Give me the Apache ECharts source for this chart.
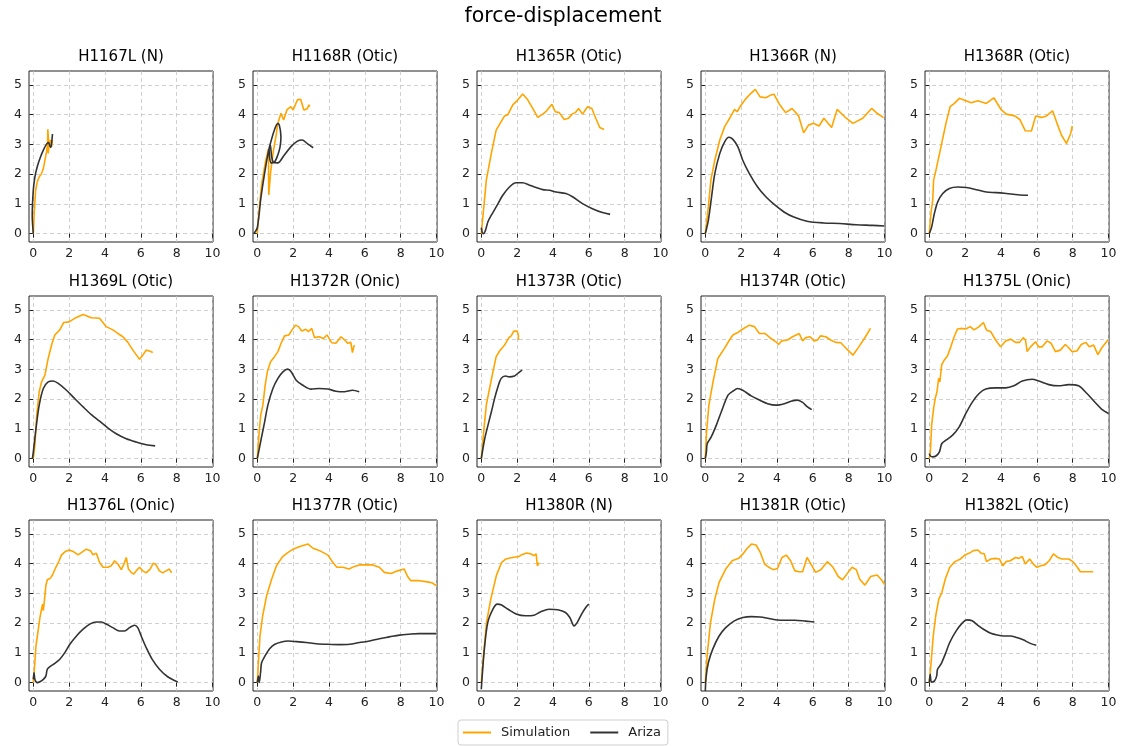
<!DOCTYPE html>
<html>
<head>
<meta charset="utf-8">
<script src="https://cdn.jsdelivr.net/npm/echarts@6/dist/echarts.min.js"></script>
<style>
html,body{margin:0;padding:0;background:#fff;}
#chart{width:1126px;height:746px;}
</style>
</head>
<body>
<div id="chart"></div>
<script>
// ---- data ----
const panelTitles = ['H1167L (N)','H1168R (Otic)','H1365R (Otic)','H1366R (N)','H1368R (Otic)',
  'H1369L (Otic)','H1372R (Onic)','H1373R (Otic)','H1374R (Otic)','H1375L (Onic)',
  'H1376L (Onic)','H1377R (Otic)','H1380R (N)','H1381R (Otic)','H1382L (Otic)'];
const xTicks = [0,2,4,6,8,10];
const yTicks = [0,1,2,3,4,5];
const seriesNames = ['Simulation','Ariza'];

const sim_H1167L = [[0,0],[0.06,0.79],[0.13,1.46],[0.22,1.74],[0.33,1.91],[0.46,2.02],[0.56,2.19],[0.65,2.47],[0.74,2.75],[0.8,3.03],[0.81,3.51],[0.85,3.15],[0.83,2.7],[0.89,3.03],[0.96,3.15],[1.02,2.92],[1.06,3.15]];
const ariza_H1167L = [[0,0],[-0.06,0.6],[0,1.46],[0.09,1.91],[0.22,2.25],[0.37,2.53],[0.56,2.81],[0.74,3.01],[0.85,3.06],[0.93,2.94],[0.98,2.9],[1.04,3.15],[1.07,3.35]];

const sim_H1168R = [[0,0],[0.1,0.8],[0.25,1.7],[0.45,2.4],[0.62,2.85],[0.64,1.3],[0.75,2.1],[0.9,2.8],[1.05,3.3],[1.14,3.7],[1.32,4.05],[1.47,3.82],[1.65,4.16],[1.87,4.27],[2.0,4.16],[2.24,4.5],[2.42,4.52],[2.6,4.16],[2.79,4.2],[2.88,4.33],[2.92,4.27]];
const ariza_H1168R = [[-0.2,0],[0,0.2],[0.2,1.2],[0.4,2.0],[0.6,2.7],[0.73,3.03],[0.95,3.48],[1.14,3.7],[1.23,3.65],[1.32,3.26],[1.27,2.92],[1.14,2.64],[0.95,2.4],[0.77,2.38],[0.68,2.6],[0.66,2.85],[0.72,3.0],[0.8,2.6],[0.9,2.4],[1.14,2.38],[1.5,2.64],[1.87,2.92],[2.24,3.11],[2.5,3.15],[2.79,3.03],[3.12,2.89]];

const sim_H1365R = [[0,0],[0.28,1.8],[0.56,2.7],[0.83,3.48],[1.1,3.76],[1.3,3.96],[1.48,4.0],[1.76,4.33],[2.04,4.5],[2.31,4.7],[2.59,4.5],[2.87,4.21],[3.15,3.91],[3.43,4.02],[3.6,4.1],[3.94,4.35],[4.13,4.1],[4.35,4.07],[4.63,3.84],[4.87,3.88],[5.06,4.02],[5.24,4.07],[5.43,4.21],[5.65,4.02],[5.93,4.27],[6.17,4.21],[6.39,3.88],[6.61,3.57],[6.85,3.5]];
const ariza_H1365R = [[0,0.2],[0.05,0.05],[0.12,0],[0.22,0.09],[0.37,0.4],[0.56,0.62],[0.83,0.9],[1.2,1.29],[1.57,1.57],[1.94,1.71],[2.31,1.71],[2.69,1.63],[3.06,1.55],[3.43,1.48],[3.8,1.46],[4.17,1.4],[4.72,1.35],[5.09,1.24],[5.65,1.01],[6.2,0.84],[6.76,0.71],[7.19,0.65]];

const sim_H1366R = [[0,0],[0.17,0.9],[0.31,1.8],[0.53,2.47],[0.81,3.15],[1.08,3.6],[1.36,3.88],[1.63,4.18],[1.78,4.1],[2.0,4.33],[2.28,4.55],[2.55,4.72],[2.79,4.85],[3.06,4.6],[3.37,4.57],[3.65,4.66],[3.83,4.69],[4.11,4.38],[4.48,4.07],[4.84,4.21],[5.21,3.96],[5.49,3.39],[5.76,3.65],[6.04,3.71],[6.35,3.62],[6.62,3.88],[7.05,3.57],[7.36,4.18],[7.78,3.93],[8.24,3.71],[8.79,3.88],[9.28,4.21],[9.61,4.04],[9.95,3.9]];
const ariza_H1366R = [[0,0],[0.17,0.45],[0.35,1.24],[0.53,2.02],[0.81,2.7],[1.08,3.09],[1.32,3.24],[1.54,3.17],[1.82,2.92],[2.09,2.47],[2.46,2.02],[2.92,1.57],[3.38,1.24],[3.83,0.99],[4.39,0.73],[4.94,0.56],[5.67,0.42],[6.59,0.36],[7.5,0.34],[8.42,0.3],[9.34,0.28],[10,0.26]];

const sim_H1368R = [[0,0],[0.09,0.67],[0.19,1.12],[0.24,1.8],[0.37,2.13],[0.65,2.92],[0.93,3.71],[1.16,4.27],[1.4,4.38],[1.68,4.55],[1.96,4.49],[2.34,4.4],[2.71,4.47],[3.18,4.38],[3.6,4.57],[4.02,4.16],[4.3,4.02],[4.77,3.96],[5.05,3.84],[5.36,3.46],[5.7,3.45],[5.94,3.96],[6.26,3.91],[6.54,3.96],[6.88,4.13],[7.1,3.76],[7.38,3.31],[7.66,3.03],[7.76,3.06],[7.89,3.37],[7.98,3.62]];
const ariza_H1368R = [[0,0],[0.13,0.22],[0.28,0.67],[0.47,1.07],[0.75,1.35],[1.12,1.52],[1.59,1.57],[2.06,1.55],[2.62,1.48],[3.18,1.4],[3.74,1.38],[4.3,1.35],[4.95,1.31],[5.51,1.29]];

const sim_H1369L = [[0,0],[0.09,0.45],[0.19,1.46],[0.33,2.25],[0.46,2.58],[0.65,2.81],[0.83,3.37],[1.02,3.82],[1.2,4.16],[1.48,4.33],[1.7,4.58],[2.0,4.6],[2.31,4.72],[2.78,4.85],[3.24,4.74],[3.7,4.72],[4.07,4.44],[4.44,4.33],[4.72,4.21],[5.0,4.1],[5.28,3.91],[5.56,3.65],[5.93,3.34],[6.11,3.48],[6.3,3.65],[6.48,3.62],[6.67,3.57]];
const ariza_H1369L = [[-0.05,0],[0,0.22],[0.15,1.01],[0.33,1.8],[0.56,2.36],[0.83,2.58],[1.11,2.61],[1.39,2.53],[1.85,2.3],[2.31,2.02],[2.78,1.74],[3.24,1.48],[3.7,1.26],[4.17,1.03],[4.63,0.84],[5.19,0.67],[5.74,0.56],[6.3,0.47],[6.8,0.43]];

const sim_H1372R = [[0,0],[0.09,0.79],[0.19,1.46],[0.31,1.8],[0.44,2.47],[0.56,2.92],[0.74,3.26],[0.96,3.43],[1.15,3.6],[1.33,3.88],[1.52,4.13],[1.76,4.16],[1.94,4.33],[2.13,4.49],[2.3,4.44],[2.48,4.29],[2.72,4.35],[2.85,4.27],[3.04,4.38],[3.19,4.07],[3.46,4.1],[3.69,4.04],[3.89,4.16],[4.15,3.9],[4.39,3.88],[4.67,4.1],[4.89,3.99],[5.04,3.88],[5.22,3.91],[5.31,3.57],[5.41,3.82]];
const ariza_H1372R = [[0,0],[0.22,0.67],[0.41,1.24],[0.59,1.8],[0.87,2.36],[1.15,2.7],[1.43,2.92],[1.7,3.01],[1.89,2.92],[2.17,2.64],[2.54,2.47],[3.0,2.34],[3.46,2.36],[3.93,2.34],[4.39,2.27],[4.85,2.25],[5.31,2.3],[5.69,2.25]];

const sim_H1373R = [[0,0],[0.15,1.01],[0.28,1.8],[0.46,2.36],[0.65,2.92],[0.83,3.43],[1.02,3.62],[1.3,3.82],[1.39,3.82],[1.54,4.07],[1.67,4.13],[1.81,4.29],[1.9,4.27],[2.0,4.29],[2.07,4.16],[2.07,3.99]];
const ariza_H1373R = [[0,0],[0.19,0.67],[0.37,1.12],[0.56,1.57],[0.74,2.02],[0.93,2.42],[1.11,2.7],[1.35,2.78],[1.57,2.75],[1.85,2.78],[2.04,2.87],[2.28,2.98]];

const sim_H1374R = [[0,0],[0.07,0.9],[0.2,1.8],[0.43,2.58],[0.7,3.37],[1.07,3.71],[1.35,3.99],[1.54,4.16],[1.81,4.24],[2.09,4.36],[2.46,4.49],[2.74,4.44],[3.02,4.21],[3.33,4.21],[3.67,4.04],[3.94,3.93],[4.09,3.84],[4.26,3.96],[4.59,3.99],[4.87,4.1],[5.24,4.21],[5.43,3.96],[5.61,4.07],[5.85,4.1],[6.07,3.96],[6.26,3.99],[6.44,4.13],[6.72,4.1],[7.0,3.99],[7.28,3.91],[7.56,3.9],[7.83,3.73],[8.24,3.48],[8.57,3.76],[8.94,4.1],[9.22,4.38]];
const ariza_H1374R = [[0,0],[0.06,0.22],[0.11,0.51],[0.33,0.73],[0.61,1.12],[0.89,1.57],[1.26,2.13],[1.54,2.27],[1.81,2.36],[2.09,2.3],[2.56,2.11],[3.02,1.97],[3.48,1.85],[3.94,1.8],[4.41,1.85],[4.78,1.93],[5.15,1.97],[5.43,1.89],[5.7,1.74],[5.94,1.65]];

const sim_H1375L = [[0,0],[0.06,0.22],[0.13,1.12],[0.24,1.69],[0.33,2.02],[0.43,2.25],[0.52,2.7],[0.59,2.58],[0.69,3.15],[0.83,3.31],[1.02,3.46],[1.2,3.76],[1.39,4.1],[1.57,4.36],[1.76,4.38],[2.04,4.36],[2.28,4.44],[2.5,4.33],[2.78,4.44],[3.02,4.58],[3.19,4.33],[3.43,4.27],[3.7,3.99],[3.98,3.76],[4.26,3.96],[4.54,4.02],[4.81,3.91],[5.04,3.91],[5.24,4.07],[5.37,3.99],[5.46,3.6],[5.65,3.76],[5.93,3.93],[6.11,3.76],[6.3,3.76],[6.57,3.96],[6.8,3.88],[7.04,3.6],[7.31,3.65],[7.59,3.84],[7.78,3.73],[7.96,3.6],[8.24,3.62],[8.48,3.84],[8.74,3.91],[8.93,3.76],[9.17,3.82],[9.41,3.5],[9.63,3.73],[9.98,4.0]];
const ariza_H1375L = [[0,0.17],[0.06,0.09],[0.19,0.06],[0.37,0.09],[0.56,0.22],[0.7,0.51],[0.93,0.62],[1.3,0.79],[1.67,1.07],[2.04,1.52],[2.41,1.91],[2.78,2.19],[3.15,2.34],[3.7,2.38],[4.26,2.38],[4.72,2.45],[5.19,2.61],[5.74,2.67],[6.11,2.61],[6.67,2.49],[7.22,2.45],[7.78,2.49],[8.33,2.45],[8.8,2.19],[9.26,1.89],[9.63,1.66],[10,1.52]];

const sim_H1376L = [[0,0],[0.06,0.45],[0.15,1.24],[0.28,1.8],[0.37,2.19],[0.46,2.47],[0.52,2.64],[0.56,2.42],[0.61,2.7],[0.7,3.26],[0.78,3.46],[0.93,3.5],[1.07,3.62],[1.26,3.88],[1.44,4.1],[1.57,4.29],[1.76,4.4],[2.0,4.46],[2.26,4.4],[2.5,4.3],[2.74,4.4],[2.96,4.49],[3.19,4.44],[3.33,4.3],[3.52,4.35],[3.7,4.04],[3.89,3.88],[4.17,3.88],[4.35,3.93],[4.54,4.1],[4.72,3.99],[4.91,3.8],[5.04,3.96],[5.19,4.21],[5.31,3.82],[5.46,3.71],[5.61,3.65],[5.74,3.76],[5.93,3.88],[6.11,3.76],[6.3,3.69],[6.52,3.82],[6.7,4.02],[6.85,3.96],[7.04,3.76],[7.22,3.69],[7.41,3.76],[7.59,3.82],[7.72,3.69]];
const ariza_H1376L = [[0,0.11],[0.04,0.34],[0.09,0.11],[0.22,0],[0.37,0.03],[0.56,0.11],[0.7,0.22],[0.78,0.45],[0.93,0.54],[1.2,0.65],[1.48,0.79],[1.76,1.01],[2.04,1.29],[2.41,1.57],[2.78,1.8],[3.15,1.97],[3.52,2.04],[3.8,2.04],[4.07,1.97],[4.44,1.85],[4.81,1.74],[5.09,1.74],[5.37,1.85],[5.65,1.93],[5.83,1.85],[6.02,1.57],[6.3,1.18],[6.63,0.79],[7.04,0.45],[7.5,0.2],[8.06,0.02]];

const sim_H1377R = [[0,0],[0.06,0.67],[0.15,1.57],[0.3,2.25],[0.52,2.92],[0.8,3.48],[1.07,3.93],[1.41,4.24],[1.72,4.38],[2.0,4.49],[2.37,4.58],[2.83,4.66],[3.11,4.52],[3.48,4.44],[3.94,4.29],[4.22,4.04],[4.44,3.88],[4.78,3.88],[5.11,3.82],[5.43,3.91],[5.7,3.96],[6.07,3.96],[6.44,3.96],[6.81,3.88],[7.09,3.71],[7.46,3.67],[7.83,3.76],[8.2,3.82],[8.39,3.57],[8.57,3.43],[9.04,3.43],[9.5,3.39],[9.78,3.35],[10,3.26]];
const ariza_H1377R = [[0,0],[0.06,0.22],[0.11,0],[0.19,0.39],[0.24,0.67],[0.43,0.9],[0.7,1.15],[0.98,1.29],[1.35,1.37],[1.72,1.4],[2.19,1.38],[2.74,1.35],[3.3,1.31],[3.94,1.29],[4.59,1.28],[5.15,1.29],[5.7,1.35],[6.26,1.4],[6.81,1.48],[7.37,1.54],[7.93,1.6],[8.48,1.63],[9.04,1.65],[9.59,1.65],[10,1.65]];

const sim_H1380R = [[0,0],[0.12,0.9],[0.29,2.02],[0.53,2.81],[0.84,3.6],[1.13,4.04],[1.37,4.16],[1.73,4.21],[2.1,4.24],[2.22,4.29],[2.53,4.36],[2.77,4.33],[2.94,4.27],[3.06,4.33],[3.13,3.93],[3.23,4.04]];
const ariza_H1380R = [[0,-0.22],[0.05,0.22],[0.17,1.12],[0.36,2.02],[0.65,2.47],[0.89,2.64],[1.13,2.61],[1.49,2.47],[1.98,2.3],[2.46,2.25],[2.94,2.27],[3.3,2.38],[3.78,2.47],[4.27,2.45],[4.7,2.36],[4.94,2.19],[5.18,1.91],[5.35,2.02],[5.59,2.3],[5.83,2.53],[6.0,2.64]];

const sim_H1381R = [[0,0],[0.1,0.9],[0.29,2.02],[0.53,2.81],[0.77,3.37],[1.14,3.82],[1.5,4.1],[1.86,4.18],[2.1,4.33],[2.34,4.52],[2.58,4.66],[2.83,4.63],[3.07,4.38],[3.31,3.99],[3.55,3.88],[3.79,3.8],[4.03,3.84],[4.28,4.21],[4.52,4.29],[4.76,4.1],[5.0,3.76],[5.24,3.73],[5.43,3.73],[5.68,4.21],[5.92,3.96],[6.16,3.71],[6.45,3.8],[6.81,4.07],[7.13,3.88],[7.42,3.57],[7.66,3.46],[7.9,3.65],[8.19,3.88],[8.43,3.8],[8.62,3.48],[8.91,3.28],[9.23,3.57],[9.59,3.62],[9.83,3.46],[10,3.31]];
const ariza_H1381R = [[0,-0.28],[0.05,0.22],[0.17,0.67],[0.41,1.12],[0.77,1.57],[1.14,1.85],[1.62,2.08],[2.1,2.19],[2.58,2.22],[3.07,2.21],[3.55,2.16],[4.03,2.11],[4.52,2.1],[5.0,2.1],[5.6,2.07],[6.09,2.04]];

const sim_H1382L = [[0,0],[0.1,0.67],[0.22,1.57],[0.36,2.25],[0.53,2.81],[0.7,3.03],[0.89,3.48],[1.14,3.88],[1.43,4.07],[1.74,4.16],[1.98,4.29],[2.22,4.35],[2.46,4.44],[2.71,4.46],[2.9,4.35],[3.07,4.33],[3.19,4.07],[3.43,4.16],[3.67,4.18],[3.91,4.16],[4.11,3.93],[4.28,4.07],[4.52,4.1],[4.81,4.21],[5.0,4.18],[5.19,4.24],[5.36,3.99],[5.6,4.16],[5.85,3.96],[6.01,3.88],[6.21,3.93],[6.45,3.96],[6.69,4.1],[6.93,4.33],[7.17,4.21],[7.42,4.16],[7.78,4.16],[8.02,4.07],[8.26,3.88],[8.43,3.73],[8.74,3.73],[9.15,3.73]];
const ariza_H1382L = [[0,0],[0.05,0.28],[0.12,0.02],[0.29,0.06],[0.41,0.22],[0.46,0.45],[0.65,0.62],[0.89,0.96],[1.14,1.35],[1.5,1.74],[1.86,2.02],[2.1,2.11],[2.39,2.08],[2.71,1.93],[3.07,1.78],[3.43,1.66],[3.79,1.6],[4.15,1.57],[4.52,1.57],[4.88,1.52],[5.24,1.44],[5.6,1.33],[5.97,1.26]];

const simData = [sim_H1167L,sim_H1168R,sim_H1365R,sim_H1366R,sim_H1368R,sim_H1369L,sim_H1372R,sim_H1373R,sim_H1374R,sim_H1375L,sim_H1376L,sim_H1377R,sim_H1380R,sim_H1381R,sim_H1382L];
const arizaData = [ariza_H1167L,ariza_H1168R,ariza_H1365R,ariza_H1366R,ariza_H1368R,ariza_H1369L,ariza_H1372R,ariza_H1373R,ariza_H1374R,ariza_H1375L,ariza_H1376L,ariza_H1377R,ariza_H1380R,ariza_H1381R,ariza_H1382L];

// ---- layout ----
const FONT = 'DejaVu Sans';
const colLefts = [29, 253, 477, 701, 925];
const rowTops = [71, 296, 520];
const GW = 184, GH = 171;
const SIM_COLOR = '#FFA500', ARIZA_COLOR = '#333333';

const grids = [], xAxes = [], yAxes = [], titles = [], series = [];
titles.push({text:'force-displacement', left:563, top:6, textAlign:'center', padding:0,
  textStyle:{fontFamily:FONT, fontSize:20.5, fontWeight:'normal', color:'#000'}});
panelTitles.forEach((t, i) => {
  const r = Math.floor(i/5), c = i%5;
  grids.push({left:colLefts[c], top:rowTops[r], width:GW, height:GH, show:true,
    borderColor:'#222', borderWidth:1, backgroundColor:'transparent', containLabel:false});
  titles.push({text:t, left:colLefts[c]+GW/2, top:rowTops[r]-23, textAlign:'center', padding:0,
    textStyle:{fontFamily:FONT, fontSize:15, fontWeight:'normal', color:'#000', lineHeight:18}});
  xAxes.push({type:'value', gridIndex:i, min:-0.24, max:10.03,
    axisLine:{show:false},
    axisTick:{show:true, customValues:xTicks, length:4, lineStyle:{color:'#222', width:1}},
    axisLabel:{customValues:xTicks, fontFamily:FONT, fontSize:12.5, color:'#222', margin:5},
    splitLine:{show:true, lineStyle:{color:'#c4c4c4', type:[4,3], width:0.8}}});
  yAxes.push({type:'value', gridIndex:i, min:-0.28, max:5.47,
    axisLine:{show:false},
    axisTick:{show:true, customValues:yTicks, length:4, lineStyle:{color:'#222', width:1}},
    axisLabel:{customValues:yTicks, fontFamily:FONT, fontSize:12.5, color:'#222', margin:7},
    splitLine:{show:true, lineStyle:{color:'#c4c4c4', type:[4,3], width:0.8}}});
  series.push({name:seriesNames[0], type:'line', xAxisIndex:i, yAxisIndex:i, data:simData[i],
    symbol:'none', showSymbol:false, clip:true, lineStyle:{color:SIM_COLOR, width:1.6}, itemStyle:{color:SIM_COLOR}, z:2});
  series.push({name:seriesNames[1], type:'line', xAxisIndex:i, yAxisIndex:i, data:arizaData[i],
    symbol:'none', showSymbol:false, clip:true, smooth:0.3, lineStyle:{color:ARIZA_COLOR, width:1.6}, itemStyle:{color:ARIZA_COLOR}, z:3});
});

const chart = echarts.init(document.getElementById('chart'), null, {renderer:'canvas'});
chart.setOption({
  animation:false,
  backgroundColor:'#fff',
  title:titles,
  grid:grids,
  xAxis:xAxes,
  yAxis:yAxes,
  legend:{data:seriesNames, left:458, top:720, orient:'horizontal',
    icon:'rect', itemWidth:28, itemHeight:2, itemGap:20, padding:[6,7,6,5],
    borderColor:'#cfcfcf', borderWidth:1, borderRadius:3,
    textStyle:{fontFamily:FONT, fontSize:13, color:'#222', padding:[0,0,0,5]}},
  series:series
});
</script>
</body>
</html>
